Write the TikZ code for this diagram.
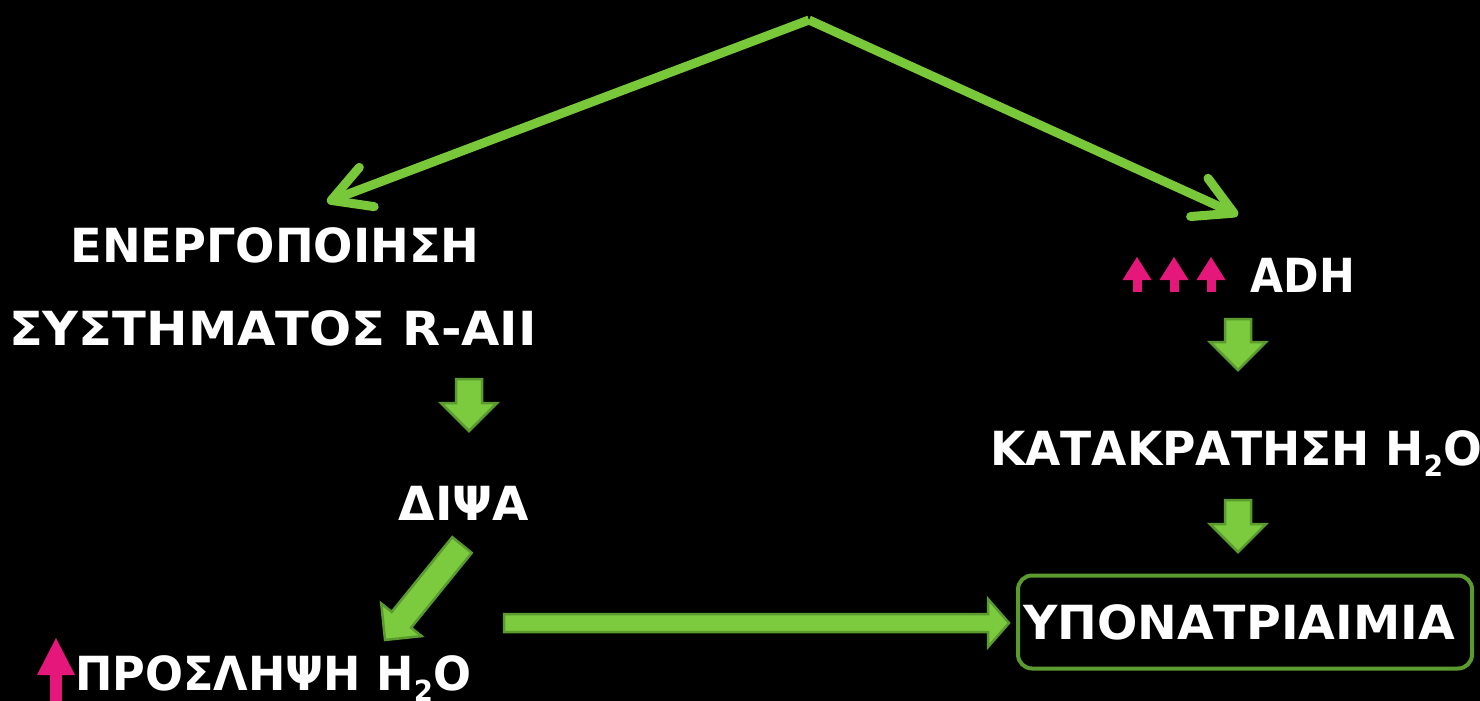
\documentclass[tikz,border=0pt]{standalone}
\usepackage{fontspec}
\usepackage{graphicx}
\setmainfont{DejaVu Sans}
\usetikzlibrary{arrows.meta,calc}
\definecolor{lineg}{HTML}{78C83A}
\definecolor{blight}{HTML}{7CCB3E}
\definecolor{bdark}{HTML}{5B9A2E}
\definecolor{pinkc}{HTML}{E5177B}
\newcommand\subtwo{\raisebox{-11pt}{\fontsize{29}{30}\selectfont 2}}
\newcommand\hsc[2]{\scalebox{#1}[1]{#2}}
\begin{document}
\begin{tikzpicture}[x=1pt,y=-1pt,
  lbl/.style={text=white, font=\bfseries\fontsize{47}{52}\selectfont, inner sep=0pt, anchor=base},
  thinarr/.style={draw=lineg, line width=9pt, -{Straight Barb[length=38pt,width=42pt,round]}},
  pinkarr/.style n args={3}{draw=pinkc, line width=#1, -{Triangle[length=#3,width=#2,line width=0pt]}},
  blk/.style n args={3}{draw=bdark, fill=blight, line width=2.5pt, line join=miter,
    to path={let \p1=(\tikztostart), \p2=(\tikztotarget),
      \n1={atan2(\y2-\y1,\x2-\x1)}, \n2={veclen(\x2-\x1,\y2-\y1)} in
      [shift={(\p1)}, rotate=\n1]
      (0pt,{#1/2*1pt}) -- ({\n2*1pt-#3*1pt},{#1/2*1pt}) -- ({\n2*1pt-#3*1pt},{#2/2*1pt})
      -- ({\n2*1pt},0pt) -- ({\n2*1pt-#3*1pt},{-#2/2*1pt}) -- ({\n2*1pt-#3*1pt},{-#1/2*1pt})
      -- (0pt,{-#1/2*1pt}) -- cycle}}
]
\useasboundingbox (0,0) rectangle (1480,701);
\fill[black] (0,0) rectangle (1480,701);

% text nodes
\node[lbl] (enr1) at (275,262) {\hsc{0.985}{ΕΝΕΡΓΟΠΟΙΗΣΗ}};
\node[lbl] (enr2) at (273,345) {\hsc{1.055}{ΣΥΣΤΗΜΑΤΟΣ R-AII}};
\node[lbl] (diwa) at (464,520) {ΔΙΨΑ};
\node[lbl, anchor=base west] (prosl) at (75,690) {\hsc{0.95}{ΠΡΟΣΛΗΨΗ H\subtwo O}};
\node[lbl] (adh) at (1303,292) {\hsc{0.91}{ADH}};
\node[lbl] (katak) at (1236,465) {\hsc{0.97}{ΚΑΤΑΚΡΑΤΗΣΗ H\subtwo O}};
\node[lbl, anchor=center, draw=bdark, line width=4pt, rounded corners=14pt,
      minimum width=454pt, minimum height=93pt, text width=444pt, align=left] (hypo) at (1245,622) {\hsc{1.01}{ΥΠΟΝΑΤΡΙΑΙΜΙΑ}};

% coordinates
\coordinate (top) at (809,20);
\coordinate (lt) at (327,202);
\coordinate (rt) at (1238,215);
\coordinate (d1s) at (469,379);
\coordinate (d1e) at (469,431);
\coordinate (d2s) at (1238,319);
\coordinate (d2e) at (1238,370);
\coordinate (d3s) at (1238,500);
\coordinate (d3e) at (1238,552);
\coordinate (dgs) at (462,545);
\coordinate (dge) at (385,640);
\coordinate (hs) at (504,623);
\coordinate (he) at (1009,623);
\coordinate (p1s) at (1137,292);
\coordinate (p1e) at (1137,257);
\coordinate (p2s) at (1174,292);
\coordinate (p2e) at (1174,257);
\coordinate (p3s) at (1211,292);
\coordinate (p3e) at (1211,257);
\coordinate (p4s) at (56,701);
\coordinate (p4e) at (56,638);

% top thin arrows
\draw[thinarr] (top) -- (lt);
\draw[thinarr] (top) -- (rt);

% block arrows
\draw[blk={26}{56}{28}] (d1s) to (d1e);
\draw[blk={26}{56}{28}] (d2s) to (d2e);
\draw[blk={26}{56}{28}] (d3s) to (d3e);
\draw[blk={25}{52}{26}] (dgs) to (dge);
\draw[blk={18}{48}{21}] (hs) to (he);

% pink arrows
\draw[pinkarr={9pt}{29pt}{23pt}] (p1s) -- (p1e);
\draw[pinkarr={9pt}{29pt}{23pt}] (p2s) -- (p2e);
\draw[pinkarr={9pt}{29pt}{23pt}] (p3s) -- (p3e);
\draw[pinkarr={12pt}{38pt}{37pt}] (p4s) -- (p4e);
\end{tikzpicture}
\end{document}
